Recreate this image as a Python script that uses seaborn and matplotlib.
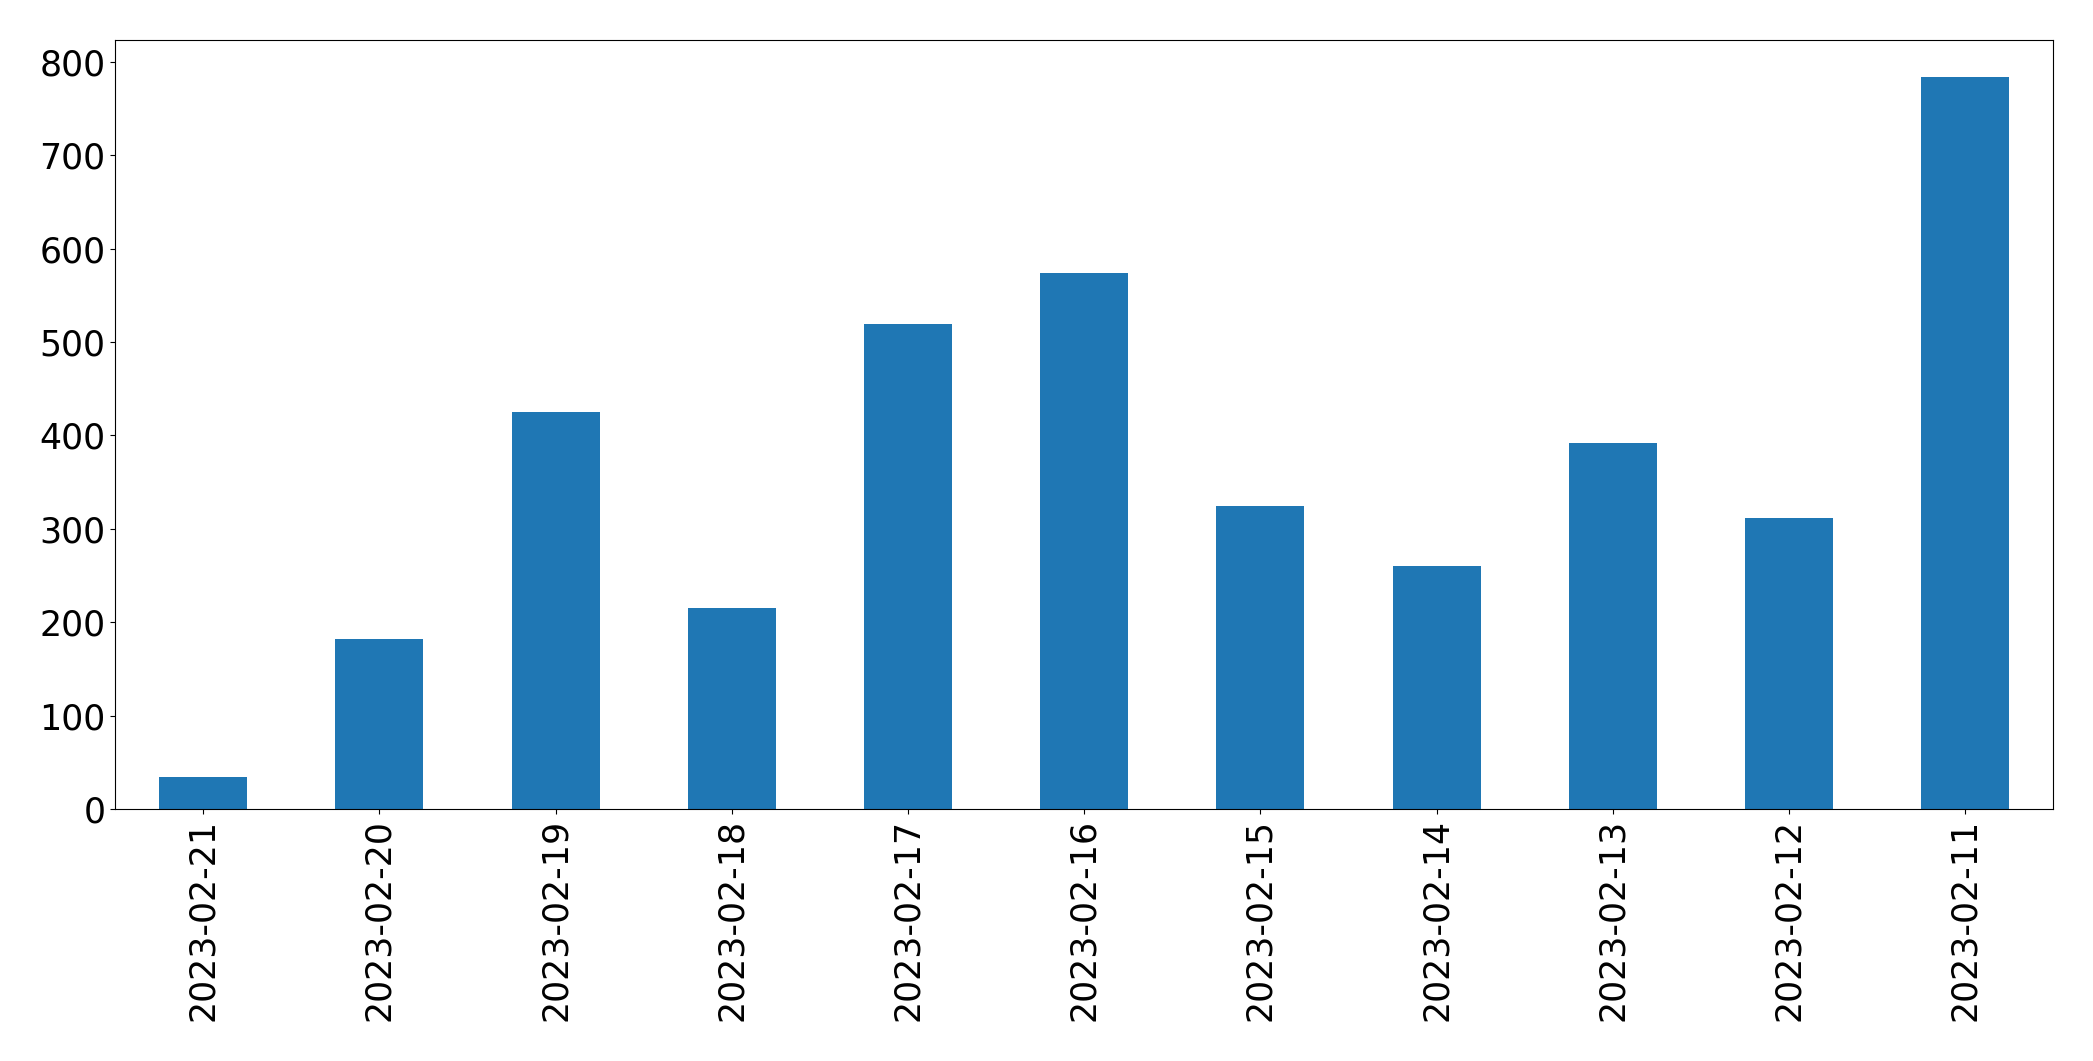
import matplotlib
matplotlib.use("Agg")
import matplotlib.pyplot as plt
import seaborn as sns
import pandas as pd

# daily counts, newest first (as in the original)
dates = ['2023-02-21', '2023-02-20', '2023-02-19', '2023-02-18', '2023-02-17',
         '2023-02-16', '2023-02-15', '2023-02-14', '2023-02-13', '2023-02-12',
         '2023-02-11']
counts = [34, 182, 425, 215, 519, 574, 324, 260, 392, 312, 784]

df = pd.DataFrame({'date': dates, 'count': counts})

fig, ax = plt.subplots(figsize=(20.93, 10.61), dpi=100)
sns.barplot(data=df, x='date', y='count', order=dates, color='#1f77b4',
            saturation=1, width=0.5, linewidth=0, ax=ax)

ax.set_xlim(-0.5, len(dates) - 0.5)
ax.set_ylim(0, max(counts) * 1.05)
ax.set_xlabel('')
ax.set_ylabel('')
ax.tick_params(axis='both', labelsize=25)
plt.setp(ax.get_xticklabels(), rotation=90)
for s in ax.spines.values():
    s.set_color('black')

fig.subplots_adjust(left=0.055, right=0.981, top=0.962, bottom=0.2375)
fig.savefig('out.png', dpi=100)
